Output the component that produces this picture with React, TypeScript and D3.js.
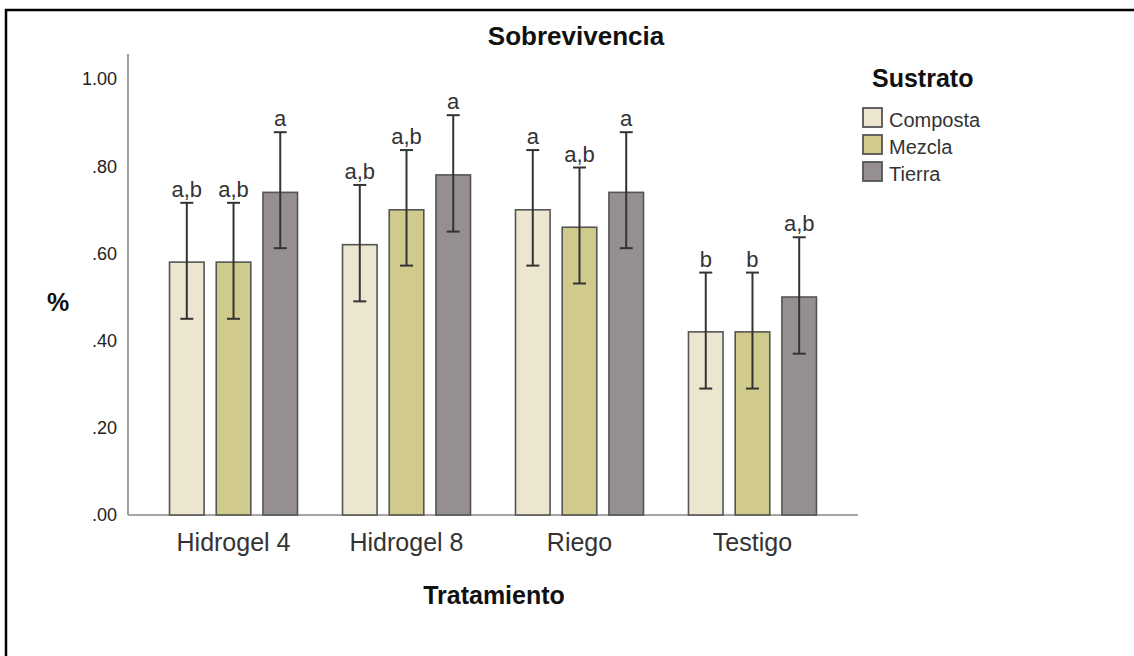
import React from "react";
import * as d3 from "d3";

const categories = ["Hidrogel 4", "Hidrogel 8", "Riego", "Testigo"];
const seriesNames = ["Composta", "Mezcla", "Tierra"];
const seriesColors = ["#ece6d0", "#d0cb8c", "#958f8f"];

const compostaMean = [0.58, 0.62, 0.70, 0.42];
const mezclaMean = [0.58, 0.70, 0.66, 0.42];
const tierraMean = [0.74, 0.78, 0.74, 0.50];

const compostaUpper = [0.716, 0.757, 0.837, 0.556];
const mezclaUpper = [0.716, 0.837, 0.797, 0.556];
const tierraUpper = [0.878, 0.917, 0.878, 0.637];

const compostaLower = [0.45, 0.49, 0.572, 0.29];
const mezclaLower = [0.45, 0.572, 0.531, 0.29];
const tierraLower = [0.612, 0.65, 0.612, 0.37];

const compostaLetters = ["a,b", "a,b", "a", "b"];
const mezclaLetters = ["a,b", "a,b", "a,b", "b"];
const tierraLetters = ["a", "a", "a", "a,b"];

const yTicks = [0, 0.2, 0.4, 0.6, 0.8, 1.0];
const yTickLabels = [".00", ".20", ".40", ".60", ".80", "1.00"];

const means = [compostaMean, mezclaMean, tierraMean];
const uppers = [compostaUpper, mezclaUpper, tierraUpper];
const lowers = [compostaLower, mezclaLower, tierraLower];
const letters = [compostaLetters, mezclaLetters, tierraLetters];

const FONT = "'Liberation Sans', Arial, sans-serif";

export default function App() {
  const x0 = d3.scaleBand<string>().domain(categories).range([128, 858]).paddingInner(0.26).paddingOuter(0.24);
  const x1 = d3.scaleBand<string>().domain(seriesNames).range([0, x0.bandwidth()]).paddingInner(0.26).paddingOuter(0);
  const y = d3.scaleLinear().domain([0, 1]).range([515, 79]);
  const capW = 13;

  return (
    <svg width={1134} height={656} style={{ position: "absolute", left: 0, top: 0, background: "#fff" }} fontFamily={FONT}>
      <rect x={6} y={10} width={1140} height={660} fill="#fff" stroke="#000" strokeWidth={2.5} />
      <text x={576} y={45} textAnchor="middle" fontSize={26} fontWeight="bold" fill="#111">Sobrevivencia</text>

      {/* axes */}
      <line x1={128} x2={128} y1={54} y2={515} stroke="#888" strokeWidth={1.6} />
      <line x1={128} x2={858} y1={515} y2={515} stroke="#888" strokeWidth={1.6} />
      {yTicks.map((t, i) => (
        <text key={i} x={117} y={y(t)} dy="0.36em" textAnchor="end" fontSize={18} fill="#222">{yTickLabels[i]}</text>
      ))}
      <text x={58} y={302} dy="0.36em" textAnchor="middle" fontSize={25} fontWeight="bold" fill="#111">%</text>

      {categories.map((c, ci) => (
        <g key={c}>
          {seriesNames.map((s, si) => {
            const bx = (x0(c) as number) + (x1(s) as number);
            const bw = x1.bandwidth();
            const cx = bx + bw / 2;
            const v = means[si][ci];
            const up = y(uppers[si][ci]);
            const lo = y(lowers[si][ci]);
            return (
              <g key={s}>
                <rect x={bx} y={y(v)} width={bw} height={y(0) - y(v)} fill={seriesColors[si]} stroke="#555" strokeWidth={1.6} />
                <line x1={cx} x2={cx} y1={up} y2={lo} stroke="#333" strokeWidth={2} />
                <line x1={cx - capW / 2} x2={cx + capW / 2} y1={up} y2={up} stroke="#333" strokeWidth={2} />
                <line x1={cx - capW / 2} x2={cx + capW / 2} y1={lo} y2={lo} stroke="#333" strokeWidth={2} />
                <text x={cx} y={up - 6} textAnchor="middle" fontSize={22} fill="#333">{letters[si][ci]}</text>
              </g>
            );
          })}
          <text x={(x0(c) as number) + x0.bandwidth() / 2} y={551} textAnchor="middle" fontSize={25} fill="#333">{c}</text>
        </g>
      ))}

      <text x={494} y={604} textAnchor="middle" fontSize={25} fontWeight="bold" fill="#111">Tratamiento</text>

      {/* legend */}
      <text x={872} y={87} fontSize={25} fontWeight="bold" fill="#111">Sustrato</text>
      {seriesNames.map((s, i) => (
        <g key={s}>
          <rect x={863} y={108 + i * 27} width={19} height={19} fill={seriesColors[i]} stroke="#555" strokeWidth={1.8} />
          <text x={889} y={127 + i * 27} fontSize={20} fill="#333">{s}</text>
        </g>
      ))}
    </svg>
  );
}
